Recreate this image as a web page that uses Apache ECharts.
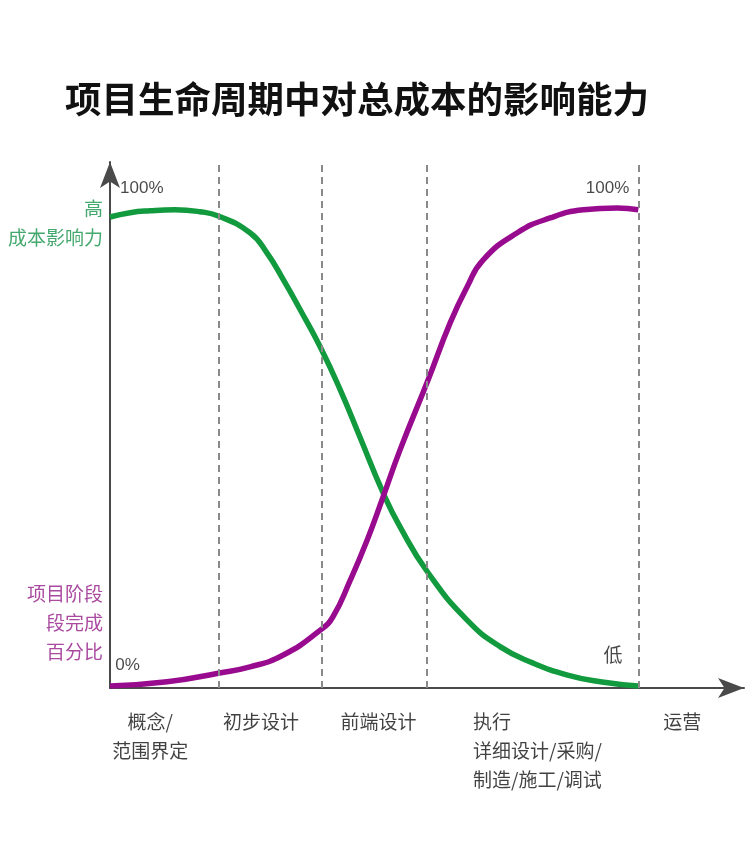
<!DOCTYPE html>
<html>
<head>
<meta charset="utf-8">
<script src="https://cdn.jsdelivr.net/npm/echarts@6/dist/echarts.min.js"></script>
<style>
html,body{margin:0;padding:0;background:#fff;}
#c{width:750px;height:850px;}
</style>
</head>
<body>
<div id="c"></div>
<script>
// ---- data ----
const titleText = '项目生命周期中对总成本的影响能力';
const phaseNames = ['概念/\n范围界定', '初步设计', '前端设计', '执行\n详细设计/采购/\n制造/施工/调试', '运营'];
const phaseBoundaries = [20.5, 40, 60, 100];
// influence on total cost (green), x = % of timeline, y = %
const costInfluence = [
  [0, 98.5], [3.8, 99.4], [7.6, 99.8], [12.3, 100], [17.0, 99.6], [20.5, 98.7],
  [26.5, 95.2], [29.7, 91.0], [32.8, 85.4], [36.0, 79.1], [39.8, 71.3], [43.6, 62.3],
  [47.3, 52.5], [51.7, 40.8], [54.9, 33.7], [60.2, 24.1], [67.6, 14.2], [73.9, 8.6],
  [80.1, 5.2], [86.6, 2.7], [92.8, 1.3], [100, 0.4]
];
// phase completion percentage (purple)
const phaseCompletion = [
  [0, 0.4], [10.8, 1.3], [20.5, 3.1], [26.5, 4.4], [32.8, 6.9], [39.8, 12.1],
  [42.2, 14.9], [45.5, 22.6], [48.7, 31.0], [51.7, 40.0], [54.9, 49.8], [60.2, 64.4],
  [64.4, 76.4], [67.6, 83.9], [70.6, 89.5], [77.1, 95.2], [83.3, 98.3], [89.6, 100],
  [96.0, 100.4], [100, 100]
];
const costLabel = '高\n成本影响力';
const completionLabel = '项目阶段\n段完成\n百分比';
const pctHigh = '100%';
const pctLow = '0%';
const lowText = '低';

// ---- chart ----
const GREEN = '#129a3e';
const PURPLE = '#990b8e';
const CJK = '"Noto Sans CJK SC", "Noto Sans", sans-serif';
const NARROW = '"Liberation Sans Narrow", "Liberation Sans", "DejaVu Sans Condensed", sans-serif';

// anchor points for category labels (x in axis units)
const labelAnchorX = [7.6, 28.6, 50.8, 68.7, 108.3];

const phaseLabelData = phaseNames.map((n, i) => ({
  value: [labelAnchorX[i], 0],
  name: n,
  label: { align: i === 3 ? 'left' : 'center' }
}));

const chart = echarts.init(document.getElementById('c'), null, { renderer: 'canvas' });
chart.setOption({
  animation: false,
  backgroundColor: '#fff',
  title: {
    text: titleText,
    left: 60,
    top: 76,
    textStyle: { fontFamily: CJK, fontSize: 36.5, fontWeight: 'bold', color: '#111' }
  },
  grid: { left: 110, right: 6, top: 162, bottom: 162, containLabel: false },
  xAxis: {
    type: 'value', min: 0, max: 120,
    axisLine: { show: true, symbol: ['none', 'arrow'], symbolSize: [15, 26], lineStyle: { color: '#4a4a4a', width: 2 } },
    axisTick: { show: false }, axisLabel: { show: false }, splitLine: { show: false }
  },
  yAxis: {
    type: 'value', min: 0, max: 110,
    axisLine: { show: true, symbol: ['none', 'arrow'], symbolSize: [15, 26], lineStyle: { color: '#4a4a4a', width: 2 } },
    axisTick: { show: false }, axisLabel: { show: false }, splitLine: { show: false }
  },
  series: [
    {
      type: 'line', name: 'dividers', data: [], z: 1, silent: true,
      markLine: {
        silent: true, symbol: 'none', label: { show: false },
        lineStyle: { color: '#8a8a8a', width: 2, type: [7, 5] },
        data: phaseBoundaries.map(v => ({ xAxis: v }))
      }
    },
    {
      type: 'line', name: '成本影响力', data: costInfluence, z: 3,
      smooth: 0.5, showSymbol: false,
      lineStyle: { color: GREEN, width: 5.5, cap: 'butt' }
    },
    {
      type: 'line', name: '项目阶段完成百分比', data: phaseCompletion, z: 4,
      smooth: 0.5, showSymbol: false,
      lineStyle: { color: PURPLE, width: 5.5, cap: 'butt' }
    },
    {
      type: 'scatter', name: 'phaseLabels', symbolSize: 0, silent: true, z: 5,
      data: phaseLabelData,
      label: {
        show: true, position: 'bottom', distance: 19, formatter: p => p.name,
        fontFamily: CJK, fontSize: 19, lineHeight: 29, color: '#111', verticalAlign: 'top'
      }
    },
    {
      type: 'scatter', name: 'sideLabels', symbolSize: 0, silent: true, z: 5,
      data: [
        { value: [0, 97.1], name: costLabel, label: { color: '#17924a' } },
        { value: [0, 13.6], name: completionLabel, label: { color: '#931b87' } }
      ],
      label: {
        show: true, position: 'left', distance: 7, align: 'right', formatter: p => p.name,
        fontFamily: CJK, fontSize: 19, lineHeight: 29
      }
    },
    {
      type: 'scatter', name: 'pctLabels', symbolSize: 0, silent: true, z: 5,
      data: [
        { value: [1.9, 104.6], name: pctHigh, label: { position: 'right', align: 'left', fontFamily: NARROW, fontSize: 17 } },
        { value: [98.3, 104.6], name: pctHigh, label: { position: 'left', align: 'right', fontFamily: NARROW, fontSize: 17 } },
        { value: [1.0, 4.8], name: pctLow, label: { position: 'right', align: 'left', fontFamily: NARROW, fontSize: 17 } },
        { value: [97.0, 6.9], name: lowText, label: { position: 'left', align: 'right', fontFamily: CJK, fontSize: 19 } }
      ],
      label: { show: true, distance: 0, formatter: p => p.name, color: '#1a1a1a' }
    }
  ]
});
</script>
</body>
</html>
